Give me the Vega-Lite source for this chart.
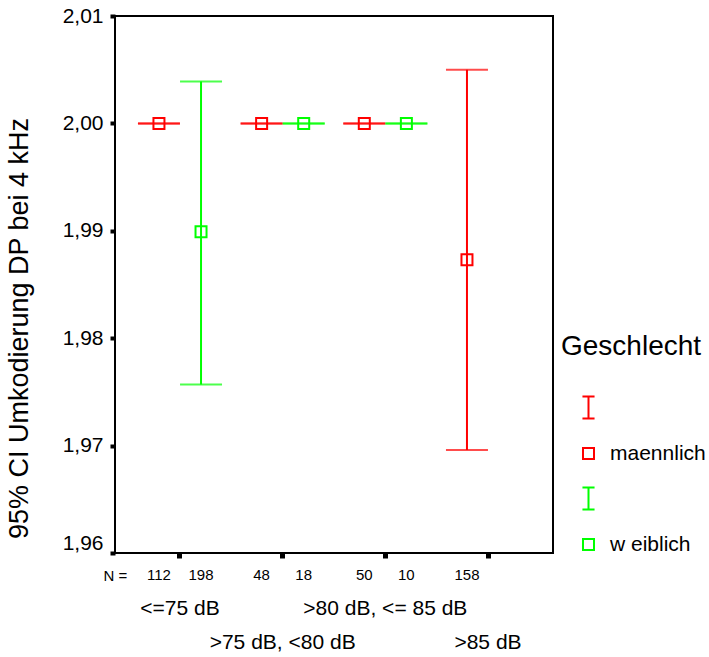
{
  "$schema": "https://vega.github.io/schema/vega-lite/v6.json",
  "width": 438,
  "height": 537,
  "autosize": {"type": "none"},
  "padding": {"left": 115, "top": 16, "right": 156, "bottom": 104},
  "background": "white",
  "config": {
    "font": "Liberation Sans",
    "view": {"stroke": "black", "strokeWidth": 2}
  },
  "data": {
    "values": [
      {"grp": "<=75 dB", "sex": "maennlich", "mean": 2.0, "lo": 2.0, "hi": 2.0, "n": 112},
      {"grp": "<=75 dB", "sex": "weiblich", "mean": 1.9899, "lo": 1.9757, "hi": 2.0039, "n": 198},
      {"grp": ">75 dB, <80 dB", "sex": "maennlich", "mean": 2.0, "lo": 2.0, "hi": 2.0, "n": 48},
      {"grp": ">75 dB, <80 dB", "sex": "weiblich", "mean": 2.0, "lo": 2.0, "hi": 2.0, "n": 18},
      {"grp": ">80 dB, <= 85 dB", "sex": "maennlich", "mean": 2.0, "lo": 2.0, "hi": 2.0, "n": 50},
      {"grp": ">80 dB, <= 85 dB", "sex": "weiblich", "mean": 2.0, "lo": 2.0, "hi": 2.0, "n": 10},
      {"grp": ">85 dB", "sex": "maennlich", "mean": 1.9873, "lo": 1.9696, "hi": 2.005, "n": 158}
    ]
  },
  "encoding": {
    "x": {
      "field": "grp",
      "type": "nominal",
      "sort": null,
      "scale": {"type": "band", "domain": ["<=75 dB", ">75 dB, <80 dB", ">80 dB, <= 85 dB", ">85 dB"], "paddingInner": 0, "paddingOuter": 0.133},
      "axis": {
        "title": "N =",
        "titleX": -12,
        "titleY": 27,
        "titleAlign": "left",
        "titleBaseline": "alphabetic",
        "titleFontSize": 15,
        "titleFontWeight": "normal",
        "titleColor": "black",
        "domain": false,
        "grid": false,
        "ticks": true,
        "tickColor": "black",
        "tickSize": 5,
        "tickWidth": 5,
        "labelAngle": 0,
        "labelFontSize": 21,
        "labelColor": "black",
        "labelOverlap": false,
        "labelBaseline": "top",
        "labelPadding": {"condition": {"test": "datum.value == '>75 dB, <80 dB' || datum.value == '>85 dB'", "value": 73}, "value": 39}
      }
    },
    "xOffset": {
      "field": "sex",
      "type": "nominal",
      "scale": {"type": "band", "domain": ["maennlich", "weiblich"], "paddingInner": 0, "paddingOuter": 0.22}
    },
    "color": {
      "field": "sex",
      "type": "nominal",
      "scale": {"domain": ["m_ci", "maennlich", "w_ci", "weiblich"], "range": ["#ff0000", "#ff0000", "#00ff00", "#00ff00"]},
      "legend": {
        "title": "Geschlecht",
        "orient": "none",
        "legendX": 446,
        "legendY": 317,
        "padding": 0,
        "titleFontSize": 28,
        "titleFontWeight": "normal",
        "titleColor": "black",
        "titlePadding": 36,
        "labelFontSize": 21,
        "labelColor": "black",
        "labelExpr": "datum.value == 'weiblich' ? 'w eiblich' : (datum.value == 'maennlich' ? 'maennlich' : '')",
        "symbolStrokeWidth": 2,
        "symbolSize": 121,
        "symbolOffset": 17,
        "labelOffset": 11,
        "rowPadding": 19,
        "encode": {
          "symbols": {
            "update": {
              "fill": {"value": "transparent"},
              "fillOpacity": {"value": 0},
              "stroke": {"scale": "color", "field": "value"},
              "strokeWidth": {"value": 2},
              "opacity": {"value": 1}
            }
          }
        }
      }
    }
  },
  "layer": [
    {
      "mark": {"type": "rule", "strokeWidth": 2},
      "encoding": {
        "y": {
          "field": "lo",
          "type": "quantitative",
          "scale": {"domain": [1.96, 2.01], "zero": false, "nice": false},
          "axis": {
            "title": "95% CI Umkodierung DP bei 4 kHz",
            "titleFontSize": 27,
            "titleFontWeight": "normal",
            "titleColor": "black",
            "titleX": -82,
            "titleY": 312,
            "titleBaseline": "bottom",
            "values": [1.96, 1.97, 1.98, 1.99, 2.0, 2.01],
            "labelExpr": "replace(format(datum.value, '.2f'), '.', ',')",
            "labelFontSize": 21,
            "labelColor": "black",
            "labelPadding": 7,
            "labelBaseline": {"condition": {"test": "datum.value < 1.965", "value": "bottom"}, "value": "middle"},
            "domain": false,
            "grid": false,
            "tickColor": "black",
            "tickSize": 5,
            "tickWidth": 4
          }
        },
        "y2": {"field": "hi"}
      }
    },
    {
      "mark": {"type": "tick", "orient": "horizontal", "size": 42, "thickness": 2},
      "encoding": {"y": {"field": "lo", "type": "quantitative"}}
    },
    {
      "mark": {"type": "tick", "orient": "horizontal", "size": 42, "thickness": 2},
      "encoding": {"y": {"field": "hi", "type": "quantitative"}}
    },
    {
      "mark": {"type": "point", "filled": false, "strokeWidth": 2, "size": 121, "opacity": 1},
      "encoding": {
        "y": {"field": "mean", "type": "quantitative"},
        "shape": {
          "field": "sex",
          "type": "nominal",
          "scale": {"domain": ["m_ci", "maennlich", "w_ci", "weiblich"], "range": ["M-1.1,-2H1.1M0,-2V2M-1.1,2H1.1", "square", "M-1.1,-2H1.1M0,-2V2M-1.1,2H1.1", "square"]}
        }
      }
    },
    {
      "mark": {"type": "text", "fontSize": 15, "baseline": "alphabetic", "align": "center"},
      "encoding": {
        "y": {"datum": 1.9575},
        "text": {"field": "n", "type": "quantitative"},
        "color": {"value": "black"}
      }
    }
  ]
}
